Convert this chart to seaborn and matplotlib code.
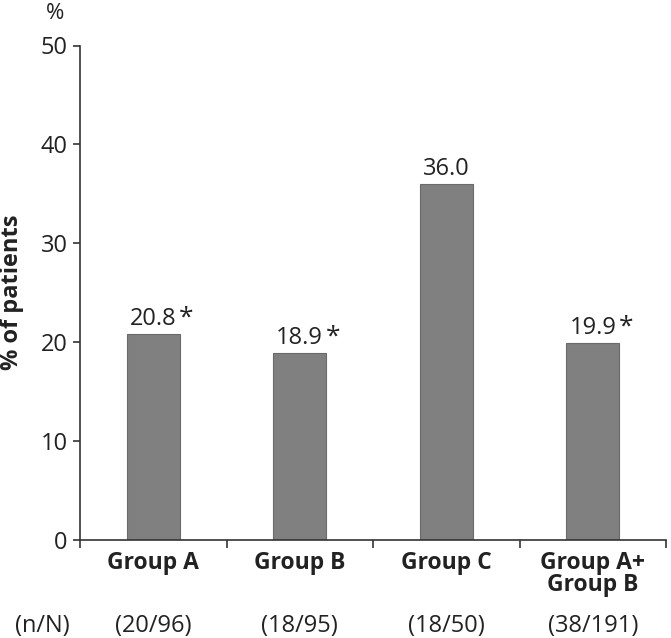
import matplotlib
matplotlib.use("Agg")
import matplotlib.pyplot as plt
import seaborn as sns
import pandas as pd

categories = ["Group A", "Group B", "Group C", "Group A+\nGroup B"]
values = [20.8, 18.9, 36.0, 19.9]
value_labels = ["20.8", "18.9", "36.0", "19.9"]
significant = [True, True, False, True]
counts = ["(20/96)", "(18/95)", "(18/50)", "(38/191)"]
y_ticks = [0, 10, 20, 30, 40, 50]

sns.set_style("ticks")
plt.rcParams["font.family"] = ["Open Sans", "DejaVu Sans"]

df = pd.DataFrame({"group": categories, "pct": values})

fig = plt.figure(figsize=(6.71, 6.38), dpi=100)
ax = fig.add_axes([80 / 671, 98 / 638, 586 / 671, 494.5 / 638])

sns.barplot(data=df, x="group", y="pct", ax=ax, color="#808080",
            saturation=1, width=0.36, edgecolor="#6a6a6a", linewidth=0.8)

txt = "#222222"
ax.set_xlim(-0.5, 3.5)
ax.set_ylim(0, 50)
ax.set_yticks(y_ticks)
ax.set_yticklabels([str(t) for t in y_ticks], fontsize=17, color=txt)
ax.tick_params(axis="y", length=5, width=1.2, color="#333333", pad=4)

# boundary ticks on x, labels at centres via minor ticks
ax.set_xticks([-0.5, 0.5, 1.5, 2.5, 3.5])
ax.set_xticklabels([])
ax.tick_params(axis="x", which="major", length=5.5, width=1.2, color="#333333")
ax.set_xticks(range(len(categories)), minor=True)
ax.set_xticklabels(categories, minor=True, fontsize=16.5, fontweight="bold",
                   color=txt, linespacing=0.9, va="top")
ax.tick_params(axis="x", which="minor", length=0, pad=8)

ax.set_xlabel("")
ax.set_ylabel("")
ax.text((12 - 80) / 586, 0.5, "% of patients", transform=ax.transAxes,
        rotation=90, ha="center", va="center", fontsize=17,
        fontweight="bold", color=txt)

for s in ["top", "right"]:
    ax.spines[s].set_visible(False)
for s in ["left", "bottom"]:
    ax.spines[s].set_color("#333333")
    ax.spines[s].set_linewidth(1.2)

for i, (v, lab, sig) in enumerate(zip(values, value_labels, significant)):
    ax.annotate(lab, (i, v), xytext=(0, 6.5), textcoords="offset points",
                ha="center", va="baseline", fontsize=17, color=txt)
    if sig:
        ax.annotate("*", (i, v), xytext=(24, 7), textcoords="offset points",
                    ha="center", va="baseline", fontsize=19, color=txt)

for i, c in enumerate(counts):
    ax.text(i, -0.174, c, transform=ax.get_xaxis_transform(), ha="center",
            va="center", fontsize=17, color=txt)

ax.text(-0.017, -0.174, "(n/N)", transform=ax.transAxes, ha="right",
        va="center", fontsize=17, color=txt)
ax.text(-0.043, 1.064, "%", transform=ax.transAxes, ha="center",
        va="center", fontsize=16, color=txt)

fig.savefig("out.png", dpi=100)
